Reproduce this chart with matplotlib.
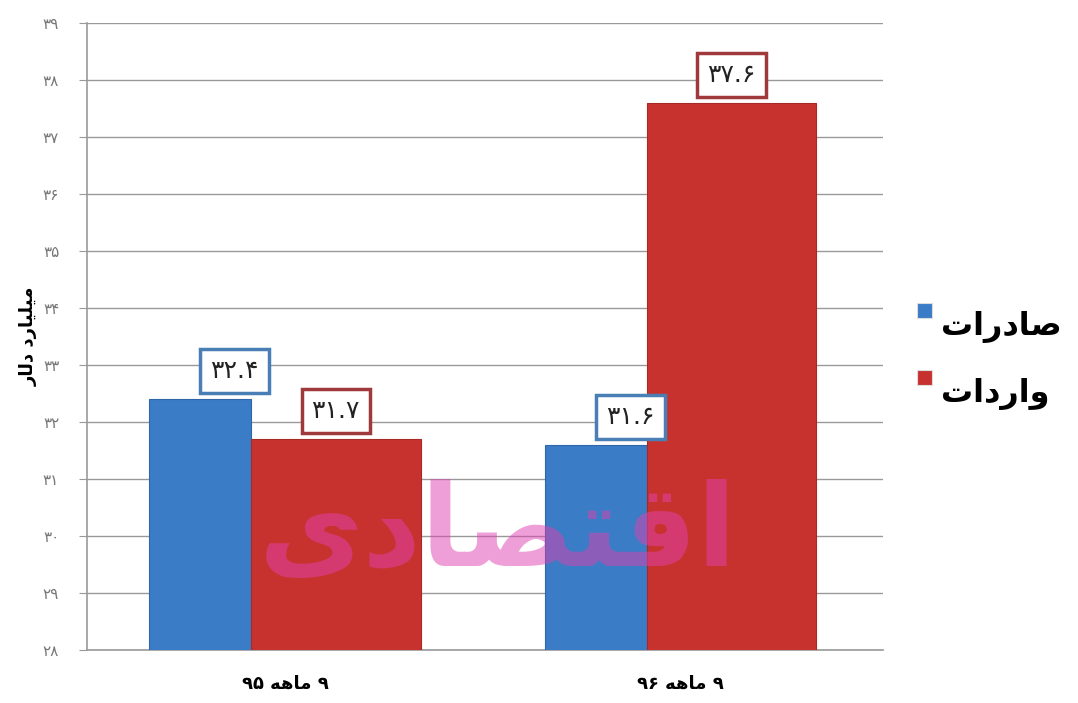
import matplotlib
matplotlib.use('Agg')
import matplotlib.pyplot as plt
import numpy as np

# chart data
categories = ['۹ ماهه ۹۵', '۹ ماهه ۹۶']
series_names = ['صادرات', 'واردات']
exports = [32.4, 31.6]
imports = [31.7, 37.6]
y_ticks = list(range(28, 40))
y_label = 'میلیارد دلار'
watermark = 'اقتصادی'

# Arabic presentation forms: (isolated, final, initial, medial); None = joins only to the right
FORMS = {
    'ا': ('\uFE8D', '\uFE8E', None, None),
    'د': ('\uFEA9', '\uFEAA', None, None),
    'ر': ('\uFEAD', '\uFEAE', None, None),
    'و': ('\uFEED', '\uFEEE', None, None),
    'ت': ('\uFE95', '\uFE96', '\uFE97', '\uFE98'),
    'ص': ('\uFEB9', '\uFEBA', '\uFEBB', '\uFEBC'),
    'م': ('\uFEE1', '\uFEE2', '\uFEE3', '\uFEE4'),
    'ه': ('\uFEE9', '\uFEEA', '\uFEEB', '\uFEEC'),
    'ل': ('\uFEDD', '\uFEDE', '\uFEDF', '\uFEE0'),
    'ق': ('\uFED5', '\uFED6', '\uFED7', '\uFED8'),
    'ی': ('\uFEEF', '\uFEF0', '\uFEF3', '\uFEF4'),
}


def shape(text):
    """Join Persian letters and reverse them for left-to-right drawing."""
    out = []
    for i, ch in enumerate(text):
        if ch not in FORMS:
            out.append(ch)
            continue
        prev = text[i - 1] if i > 0 else ''
        nxt = text[i + 1] if i + 1 < len(text) else ''
        joins_prev = prev in FORMS and FORMS[prev][2] is not None
        joins_next = FORMS[ch][2] is not None and nxt in FORMS
        iso, fin, ini, med = FORMS[ch]
        if joins_prev and joins_next:
            out.append(med)
        elif joins_prev:
            out.append(fin)
        elif joins_next:
            out.append(ini)
        else:
            out.append(iso)
    # reverse words, keep digit runs in order
    words = ''.join(out).split(' ')
    words = [w if w.isdigit() else w[::-1] for w in words]
    return ' '.join(words[::-1])


def fa_num(v):
    digits = '۰۱۲۳۴۵۶۷۸۹'
    s = str(v)
    return ''.join(digits[int(c)] if c.isdigit() else c for c in s)


plt.rcParams['font.family'] = ['DejaVu Sans']

fig = plt.figure(figsize=(10.78, 7.03), dpi=100)
ax = fig.add_axes([0.0807, 0.0754, 0.738, 0.892])

x = np.arange(len(categories))
blue = '#3b7cc6'
red = '#c8322e'
ax.bar(x - 0.343, exports, width=0.257, bottom=0, align='edge',
       color=blue, edgecolor='#2f66a8', linewidth=0.8, zorder=3)
ax.bar(x - 0.086, imports, width=0.429, bottom=0, align='edge',
       color=red, edgecolor='#a82a27', linewidth=0.8, zorder=3)

for i in range(len(categories)):
    ax.annotate(fa_num(exports[i]), (x[i] - 0.2145, exports[i]),
                xytext=(25, 20), textcoords='offset points', ha='center', va='center',
                fontsize=18, color='#222222', zorder=5,
                bbox=dict(boxstyle='square,pad=0.4', fc='white', ec='#4a7fb6', lw=2.5))
    ax.annotate(fa_num(imports[i]), (x[i] + 0.1285, imports[i]),
                xytext=(0, 20), textcoords='offset points', ha='center', va='center',
                fontsize=18, color='#222222', zorder=5,
                bbox=dict(boxstyle='square,pad=0.4', fc='white', ec='#a0393c', lw=2.5))

ax.set_xlim(-0.5, 1.51)
ax.set_ylim(28, 39)
ax.set_yticks(y_ticks)
ax.set_yticklabels([fa_num(t) for t in y_ticks], color='#777777', fontsize=11)
ax.set_xticks(x)
ax.set_xticklabels([shape(c) for c in categories], fontsize=13, fontweight='bold')
ax.tick_params(axis='x', length=0, pad=18)
ax.tick_params(axis='y', length=6, color='#999999', pad=14)
ax.grid(axis='y', color='#999999', linewidth=1, zorder=0)
for side in ['top', 'right']:
    ax.spines[side].set_visible(False)
for side in ['left', 'bottom']:
    ax.spines[side].set_color('#999999')
    ax.spines[side].set_linewidth(1.2)

ax.set_ylabel(shape(y_label), fontsize=13, fontweight='bold', labelpad=4)

# watermark
fig.text(0.462, 0.24, shape(watermark), fontsize=82, fontweight='bold',
         color='#e040b0', alpha=0.5, ha='center', va='center', zorder=10)

# legend on the right
for name, col, yy in [(series_names[0], blue, 0.535), (series_names[1], red, 0.44)]:
    fig.patches.append(plt.Rectangle((0.851, yy + 0.012), 0.014, 0.022, transform=fig.transFigure,
                                     fc=col, ec='#dddddd', lw=0.8, figure=fig))
    fig.text(0.873, yy, shape(name), fontsize=23, fontweight='bold', ha='left', va='center')

plt.savefig('out.png')
